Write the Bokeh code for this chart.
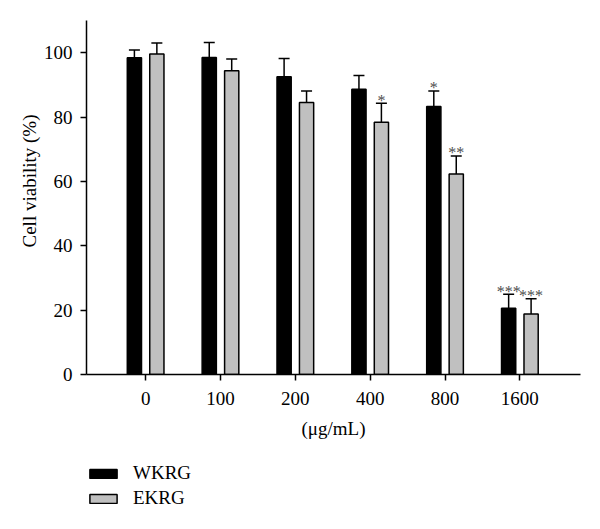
from bokeh.plotting import figure
from bokeh.layouts import column
from bokeh.models import (ColumnDataSource, Whisker, FixedTicker, Legend, LegendItem,
                          Range1d, Title)
from bokeh.core.properties import value
from bokeh.embed import file_html
from bokeh.resources import INLINE

# ---- data ----
categories = ["0", "100", "200", "400", "800", "1600"]
wkrg = [98.4, 98.5, 92.5, 88.6, 83.3, 20.6]
wkrg_err = [2.4, 4.7, 5.7, 4.3, 4.8, 4.3]
ekrg = [99.6, 94.4, 84.5, 78.4, 62.3, 18.8]
ekrg_err = [3.4, 3.6, 3.6, 5.9, 5.6, 4.7]
wkrg_sig = ["", "", "", "", "*", "***"]
ekrg_sig = ["", "", "", "*", "**", "***"]
y_ticks = [0, 20, 40, 60, 80, 100]
series_names = ["WKRG", "EKRG"]

FONT = "Liberation Serif"
BLACK_FILL = "black"
GRAY_FILL = "#c0c0c0"
offset = 0.15
bar_w = 0.19

idx = list(range(len(categories)))
src_w = ColumnDataSource(dict(
    x=[i - offset for i in idx], top=wkrg,
    upper=[v + e for v, e in zip(wkrg, wkrg_err)], sig=wkrg_sig))
src_e = ColumnDataSource(dict(
    x=[i + offset for i in idx], top=ekrg,
    upper=[v + e for v, e in zip(ekrg, ekrg_err)], sig=ekrg_sig))

p = figure(width=584, height=460, output_backend="svg", toolbar_location=None,
           x_range=Range1d(-0.79, 5.81), y_range=Range1d(0, 110),
           min_border_left=86, min_border_right=4, min_border_top=20,
           min_border_bottom=86)
p.outline_line_color = None
p.grid.visible = False

# error bars (upper only)
for src in (src_w, src_e):
    wh = Whisker(source=src, base="x", lower="top", upper="upper",
                 line_color="black", line_width=1.5)
    wh.lower_head = None
    wh.upper_head.size = 11
    wh.upper_head.line_width = 1.5
    wh.upper_head.line_color = "black"
    p.add_layout(wh)

p.vbar(x="x", top="top", width=bar_w, source=src_w,
       fill_color=BLACK_FILL, line_color="black", line_width=1.5)
p.vbar(x="x", top="top", width=bar_w, source=src_e,
       fill_color=GRAY_FILL, line_color="black", line_width=1.5)

for src in (src_w, src_e):
    p.text(x="x", y="upper", text="sig", source=src, text_align="center",
           text_baseline="alphabetic", y_offset=-3,
           text_font=value(FONT), text_font_size="16px", text_color="#4d4d4d")

# axes
p.xaxis.ticker = FixedTicker(ticks=idx)
p.xaxis.major_label_overrides = {i: c for i, c in zip(idx, categories)}
p.yaxis.ticker = FixedTicker(ticks=y_ticks)
p.xaxis.minor_tick_line_color = None
p.yaxis.minor_tick_line_color = None
for ax in (p.xaxis, p.yaxis):
    ax.axis_line_width = 1.5
    ax.major_tick_line_width = 1.5
    ax.major_tick_in = 0
    ax.major_tick_out = 6
    ax.major_label_text_font = FONT
    ax.major_label_text_font_size = "19px"
    ax.major_label_text_color = "black"
    ax.axis_label_text_font = FONT
    ax.axis_label_text_font_size = "19px"
    ax.axis_label_text_font_style = "normal"
    ax.axis_label_text_color = "black"
p.xaxis.major_label_standoff = 11
p.yaxis.major_label_standoff = 8
p.xaxis.axis_label = "(\u03bcg/mL)"
p.xaxis.axis_label_standoff = 10

# y-axis title (placed a little above the frame centre, as in the reference)
ytitle = Title(text="Cell viability (%)", align="left", offset=127,
               text_font=FONT, text_font_size="19px", text_font_style="normal",
               text_color="black", standoff=2)
p.add_layout(ytitle, "left")

# ---- legend panel below the chart ----
leg = figure(width=584, height=53, output_backend="svg", toolbar_location=None,
             x_axis_type=None, y_axis_type=None,
             x_range=Range1d(0, 1), y_range=Range1d(0, 1),
             min_border_left=0, min_border_right=0, min_border_top=0,
             min_border_bottom=0)
leg.outline_line_color = None
leg.grid.visible = False
nan = float("nan")
lw = leg.vbar(x=[nan], top=[nan], width=0.1, fill_color=BLACK_FILL,
              line_color="black", line_width=1.5)
le = leg.vbar(x=[nan], top=[nan], width=0.1, fill_color=GRAY_FILL,
              line_color="black", line_width=1.5)
legend = Legend(items=[LegendItem(label=series_names[0], renderers=[lw]),
                       LegendItem(label=series_names[1], renderers=[le])],
                location=(0, 4), orientation="vertical",
                glyph_width=34, glyph_height=11, label_height=11,
                spacing=3, padding=0, margin=0, label_standoff=13,
                border_line_color=None, background_fill_alpha=0,
                label_text_font=FONT, label_text_font_size="19px",
                label_text_color="black")
leg.add_layout(legend, "center")

open("out.html", "w").write(file_html(column(p, leg), INLINE))
